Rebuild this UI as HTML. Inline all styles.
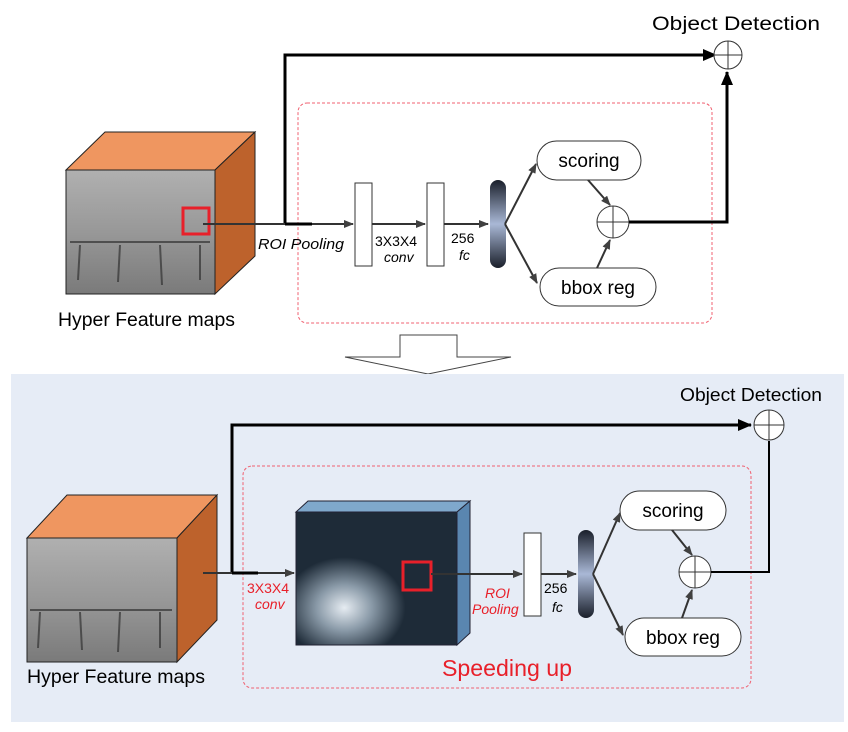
<!DOCTYPE html>
<html><head><meta charset="utf-8"><style>
html,body{margin:0;padding:0;background:#fff;}
svg{display:block;font-family:"Liberation Sans",sans-serif;}
</style></head><body>
<svg width="848" height="732" viewBox="0 0 848 732" xmlns="http://www.w3.org/2000/svg">
<defs>
<marker id="ag" markerWidth="10" markerHeight="8" refX="9" refY="4" orient="auto" markerUnits="userSpaceOnUse"><path d="M0,0 L10,4 L0,8 z" fill="#404040"/></marker>
<marker id="ab" markerWidth="14" markerHeight="12" refX="13" refY="6" orient="auto" markerUnits="userSpaceOnUse"><path d="M0,0 L14,6 L0,12 z" fill="#000"/></marker>
<linearGradient id="pill" x1="0" y1="0" x2="0" y2="1">
<stop offset="0" stop-color="#1a1f2a"/><stop offset="0.5" stop-color="#a9b8d6"/><stop offset="1" stop-color="#1a1f2a"/></linearGradient>
<linearGradient id="fm" x1="0" y1="0" x2="0" y2="1">
<stop offset="0" stop-color="#b0b0b0"/><stop offset="0.5" stop-color="#989898"/><stop offset="1" stop-color="#7a7a7a"/></linearGradient>
<radialGradient id="heat" cx="0.3" cy="0.72" r="0.38">
<stop offset="0" stop-color="#e6ecf2"/><stop offset="0.45" stop-color="#8a9aa8"/><stop offset="1" stop-color="#1e2b38"/></radialGradient>
</defs>

<!-- ===== TOP ===== -->
<text x="652" y="30" font-size="19" textLength="168" lengthAdjust="spacingAndGlyphs">Object Detection</text>
<polygon points="66,170 105,132 255,132 215,170" fill="#ef9660" stroke="#222" stroke-width="1"/>
<polygon points="215,170 255,132 255,256 215,294" fill="#bd622c" stroke="#222" stroke-width="1"/>
<rect x="66" y="170" width="149" height="124" fill="url(#fm)" stroke="#222"/>
<g stroke="#333" stroke-width="2" opacity="0.7"><line x1="70" y1="242" x2="210" y2="242"/><line x1="80" y1="245" x2="78" y2="280"/><line x1="120" y1="245" x2="118" y2="282"/><line x1="160" y1="245" x2="162" y2="285"/><line x1="200" y1="245" x2="200" y2="280"/></g>
<rect x="183" y="208" width="26" height="26" fill="none" stroke="#e8202a" stroke-width="3"/>
<text x="58" y="326" font-size="19" textLength="177" lengthAdjust="spacingAndGlyphs">Hyper Feature maps</text>
<rect x="298" y="103" width="414" height="220" rx="9" fill="none" stroke="#f06070" stroke-dasharray="3,2" stroke-width="1"/>
<polyline points="285,224 285,55 716,55" fill="none" stroke="#000" stroke-width="3" marker-end="url(#ab)"/>
<line x1="203" y1="224" x2="353" y2="224" stroke="#333" stroke-width="2" marker-end="url(#ag)"/>
<line x1="285" y1="224" x2="312" y2="224" stroke="#000" stroke-width="3"/>
<text x="258" y="249" font-size="15" font-style="italic" textLength="86" lengthAdjust="spacingAndGlyphs">ROI Pooling</text>
<rect x="355" y="183" width="17" height="83" fill="#fff" stroke="#333"/>
<line x1="372" y1="224" x2="425" y2="224" stroke="#333" stroke-width="2" marker-end="url(#ag)"/>
<text x="375" y="246" font-size="14">3X3X4</text>
<text x="384" y="262" font-size="14" font-style="italic">conv</text>
<rect x="427" y="183" width="17" height="83" fill="#fff" stroke="#333"/>
<line x1="444" y1="224" x2="488" y2="224" stroke="#333" stroke-width="2" marker-end="url(#ag)"/>
<text x="451" y="243" font-size="14">256</text>
<text x="459" y="260" font-size="14" font-style="italic">fc</text>
<rect x="490" y="180" width="16" height="88" rx="8" fill="url(#pill)"/>
<line x1="505" y1="224" x2="536" y2="164" stroke="#333" stroke-width="2" marker-end="url(#ag)"/>
<line x1="505" y1="224" x2="537" y2="283" stroke="#333" stroke-width="2" marker-end="url(#ag)"/>
<rect x="537" y="141" width="104" height="39" rx="19.5" fill="#fff" stroke="#333"/>
<text x="589" y="167" font-size="19" text-anchor="middle">scoring</text>
<rect x="540" y="268" width="116" height="38" rx="19" fill="#fff" stroke="#333"/>
<text x="598" y="294" font-size="19" text-anchor="middle">bbox reg</text>
<line x1="588" y1="180" x2="610" y2="205" stroke="#333" stroke-width="2" marker-end="url(#ag)"/>
<line x1="597" y1="268" x2="610" y2="240" stroke="#333" stroke-width="2" marker-end="url(#ag)"/>
<circle cx="613" cy="222" r="16" fill="#fff" stroke="#333"/>
<line x1="597" y1="222" x2="629" y2="222" stroke="#333"/><line x1="613" y1="206" x2="613" y2="238" stroke="#333"/>
<polyline points="629,222 727,222 727,72" fill="none" stroke="#000" stroke-width="3" marker-end="url(#ab)"/>
<circle cx="728" cy="55" r="14" fill="#fff" stroke="#333"/>
<line x1="714" y1="55" x2="742" y2="55" stroke="#333"/><line x1="728" y1="41" x2="728" y2="69" stroke="#333"/>

<polygon points="400,335 457,335 457,357 511,357 428,374 345,357 400,357" fill="#fff" stroke="#444"/>

<!-- ===== BOTTOM ===== -->
<rect x="11" y="374" width="833" height="348" fill="#e6ecf6"/>
<text x="680" y="401" font-size="18" textLength="142" lengthAdjust="spacingAndGlyphs">Object Detection</text>
<polygon points="27,538 67,495 217,495 177,538" fill="#ef9660" stroke="#222"/>
<polygon points="177,538 217,495 217,620 177,662" fill="#bd622c" stroke="#222"/>
<rect x="27" y="538" width="150" height="124" fill="url(#fm)" stroke="#222"/>
<g stroke="#333" stroke-width="2" opacity="0.7"><line x1="30" y1="610" x2="172" y2="610"/><line x1="40" y1="612" x2="38" y2="648"/><line x1="80" y1="612" x2="82" y2="650"/><line x1="120" y1="612" x2="118" y2="652"/><line x1="160" y1="612" x2="160" y2="648"/></g>
<text x="27" y="683" font-size="19" textLength="178" lengthAdjust="spacingAndGlyphs">Hyper Feature maps</text>
<rect x="243" y="466" width="508" height="222" rx="9" fill="none" stroke="#f06070" stroke-dasharray="3,2" stroke-width="1"/>
<polyline points="232,573 232,425 751,425" fill="none" stroke="#000" stroke-width="3" marker-end="url(#ab)"/>
<line x1="203" y1="573" x2="294" y2="573" stroke="#333" stroke-width="2" marker-end="url(#ag)"/>
<line x1="232" y1="573" x2="258" y2="573" stroke="#000" stroke-width="3"/>
<text x="247" y="593" font-size="14" fill="#e8202a">3X3X4</text>
<text x="255" y="609" font-size="14" fill="#e8202a" font-style="italic">conv</text>
<polygon points="296,512 308,501 470,501 457,512" fill="#7fa8cc" stroke="#223"/>
<polygon points="457,512 470,501 470,633 457,645" fill="#5a86b0" stroke="#223"/>
<rect x="296" y="512" width="161" height="133" fill="url(#heat)" stroke="#223"/>
<rect x="403" y="562" width="28" height="28" fill="none" stroke="#e8202a" stroke-width="3"/>
<line x1="431" y1="574" x2="522" y2="574" stroke="#333" stroke-width="2" marker-end="url(#ag)"/>
<text x="485" y="598" font-size="14" fill="#e8202a" font-style="italic">ROI</text>
<text x="472" y="614" font-size="14" fill="#e8202a" font-style="italic">Pooling</text>
<rect x="524" y="533" width="17" height="83" fill="#fff" stroke="#333"/>
<line x1="541" y1="574" x2="576" y2="574" stroke="#333" stroke-width="2" marker-end="url(#ag)"/>
<text x="544" y="593" font-size="14">256</text>
<text x="552" y="612" font-size="14" font-style="italic">fc</text>
<rect x="578" y="530" width="16" height="88" rx="8" fill="url(#pill)"/>
<line x1="593" y1="574" x2="620" y2="513" stroke="#333" stroke-width="2" marker-end="url(#ag)"/>
<line x1="593" y1="574" x2="623" y2="635" stroke="#333" stroke-width="2" marker-end="url(#ag)"/>
<rect x="620" y="491" width="106" height="39" rx="19.5" fill="#fff" stroke="#333"/>
<text x="673" y="517" font-size="19" text-anchor="middle">scoring</text>
<rect x="625" y="618" width="116" height="38" rx="19" fill="#fff" stroke="#333"/>
<text x="683" y="644" font-size="19" text-anchor="middle">bbox reg</text>
<line x1="672" y1="530" x2="692" y2="555" stroke="#333" stroke-width="2" marker-end="url(#ag)"/>
<line x1="682" y1="618" x2="692" y2="590" stroke="#333" stroke-width="2" marker-end="url(#ag)"/>
<circle cx="695" cy="572" r="16" fill="#fff" stroke="#333"/>
<line x1="679" y1="572" x2="711" y2="572" stroke="#333"/><line x1="695" y1="556" x2="695" y2="588" stroke="#333"/>
<polyline points="711,572 769,572 769,441" fill="none" stroke="#000" stroke-width="2"/>
<circle cx="769" cy="425" r="15" fill="#fff" stroke="#333"/>
<line x1="754" y1="425" x2="784" y2="425" stroke="#333"/><line x1="769" y1="410" x2="769" y2="440" stroke="#333"/>
<text x="442" y="676" font-size="23" fill="#e8202a" textLength="130" lengthAdjust="spacingAndGlyphs">Speeding up</text>
</svg>
</body></html>
